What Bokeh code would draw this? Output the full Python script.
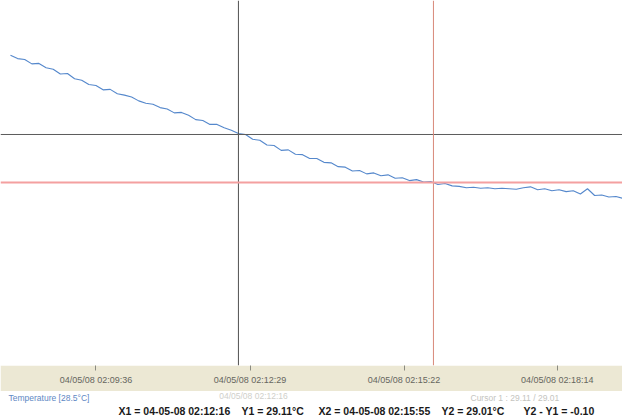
import pandas as pd
from bokeh.plotting import figure
from bokeh.layouts import column
from bokeh.models import (Range1d, FixedTicker, DatetimeTickFormatter, Span,
                          ColumnDataSource)
from bokeh.core.properties import value
from bokeh.embed import file_html
from bokeh.resources import INLINE

# ---------------- data ----------------
start_time = "2008-04-05 02:08:00"
sample_seconds = 8
temps = [
    29.275, 29.268, 29.266, 29.257, 29.258, 29.249, 29.246, 29.236, 29.237, 29.226,
    29.223, 29.214, 29.212, 29.203, 29.204, 29.195, 29.192, 29.188, 29.180, 29.175,
    29.173, 29.166, 29.163, 29.155, 29.156, 29.150, 29.141, 29.139, 29.131, 29.131,
    29.124, 29.119, 29.112, 29.110, 29.100, 29.098, 29.088, 29.087, 29.077, 29.078,
    29.069, 29.068, 29.060, 29.060, 29.052, 29.051, 29.043, 29.042, 29.034, 29.035,
    29.028, 29.030, 29.024, 29.026, 29.019, 29.020, 29.014, 29.016, 29.011, 29.012,
    29.006, 29.008, 29.003, 29.002, 28.999, 29.000, 28.998, 28.999, 28.997, 28.998,
    28.997, 28.996, 28.999, 29.001, 28.995, 28.997, 28.993, 28.995, 28.991, 28.993,
    28.986, 28.997, 28.983, 28.984, 28.980, 28.981, 28.977,
]
tick_times = ["2008-04-05 02:09:36", "2008-04-05 02:12:29",
              "2008-04-05 02:15:22", "2008-04-05 02:18:14"]
x_start, x_end = "2008-04-05 02:07:48.8", "2008-04-05 02:19:27.3"
y_start, y_end = 28.629, 29.389
x1_time, y1_val = "2008-04-05 02:12:16", 29.11
x2_time, y2_val = "2008-04-05 02:15:55", 29.01

legend_texts = ["Temperature [28.5°C]", "04/05/08 02:12:16", "Cursor 1 : 29.11 / 29.01"]
info_texts = ["X1 = 04-05-08 02:12:16", "Y1 = 29.11°C",
              "X2 = 04-05-08 02:15:55", "Y2 = 29.01°C", "Y2 - Y1 = -0.10"]


def ms(s):
    return pd.Timestamp(s).value / 1e6


W = 622
FRAME_H = 365
BAND_H = 26
TEXT_H = 26

times = pd.date_range(start_time, periods=len(temps), freq=f"{sample_seconds}s")
src = ColumnDataSource(dict(t=times, v=temps))

p = figure(width=W, height=FRAME_H + BAND_H, x_axis_type="datetime",
           x_range=Range1d(ms(x_start), ms(x_end)),
           y_range=Range1d(y_start, y_end),
           output_backend="svg", toolbar_location=None,
           min_border_left=0, min_border_right=0, min_border_top=0,
           min_border_bottom=BAND_H)
p.outline_line_color = None
p.grid.visible = False
p.yaxis.visible = False
p.background_fill_color = "white"
p.border_fill_color = "#ece8d4"

ax = p.xaxis[0]
ax.ticker = FixedTicker(ticks=[ms(t) for t in tick_times])
fmt = "%m/%d/%y %H:%M:%S"
ax.formatter = DatetimeTickFormatter(
    microseconds=fmt, milliseconds=fmt, seconds=fmt, minsec=fmt, minutes=fmt,
    hourmin=fmt, hours=fmt, days=fmt, months=fmt, years=fmt)
ax.axis_line_color = None
ax.major_tick_in = 0
ax.major_tick_out = 5
ax.major_tick_line_color = "#8a8a80"
ax.minor_tick_line_color = None
ax.major_label_standoff = 4
ax.major_label_text_font = "Liberation Sans"
ax.major_label_text_font_size = "9px"
ax.major_label_text_color = "#66665e"

p.line(x="t", y="v", source=src, line_color="#5588cc", line_width=1.1)

p.add_layout(Span(location=ms(x1_time), dimension="height",
                  line_color="#505050", line_width=1))
p.add_layout(Span(location=y1_val, dimension="width",
                  line_color="#5c5c5c", line_width=1))
p.add_layout(Span(location=ms(x2_time), dimension="height",
                  line_color="#d8887a", line_width=1))
p.add_layout(Span(location=y2_val, dimension="width",
                  line_color="#f4a0a0", line_width=2))

# ---------------- status rows under the chart ----------------
t = figure(width=W, height=TEXT_H, x_range=Range1d(0, W), y_range=Range1d(TEXT_H, 0),
           output_backend="svg", toolbar_location=None,
           min_border_left=0, min_border_right=0, min_border_top=0,
           min_border_bottom=0)
t.axis.visible = False
t.grid.visible = False
t.outline_line_color = None
t.background_fill_color = "white"
t.border_fill_color = "white"

legend_src = ColumnDataSource(dict(x=[8, 253, 470], y=[6, 4, 6], text=legend_texts,
                                   color=["#6088c4", "#cfcfca", "#c4c4c0"],
                                   align=["left", "center", "left"]))
t.text(x="x", y="y", text="text", source=legend_src, text_color="color",
       text_align="align", text_baseline="middle",
       text_font=value("Liberation Sans"), text_font_size="8.5px")

info_src = ColumnDataSource(dict(x=[118, 241, 318, 441, 523], y=[19] * 5, text=info_texts))
t.text(x="x", y="y", text="text", source=info_src, text_color="#1a1a1a",
       text_baseline="middle", text_font=value("Liberation Sans"),
       text_font_style="bold", text_font_size="10.5px")

layout = column(p, t, spacing=0)
open("out.html", "w").write(file_html(layout, INLINE))
